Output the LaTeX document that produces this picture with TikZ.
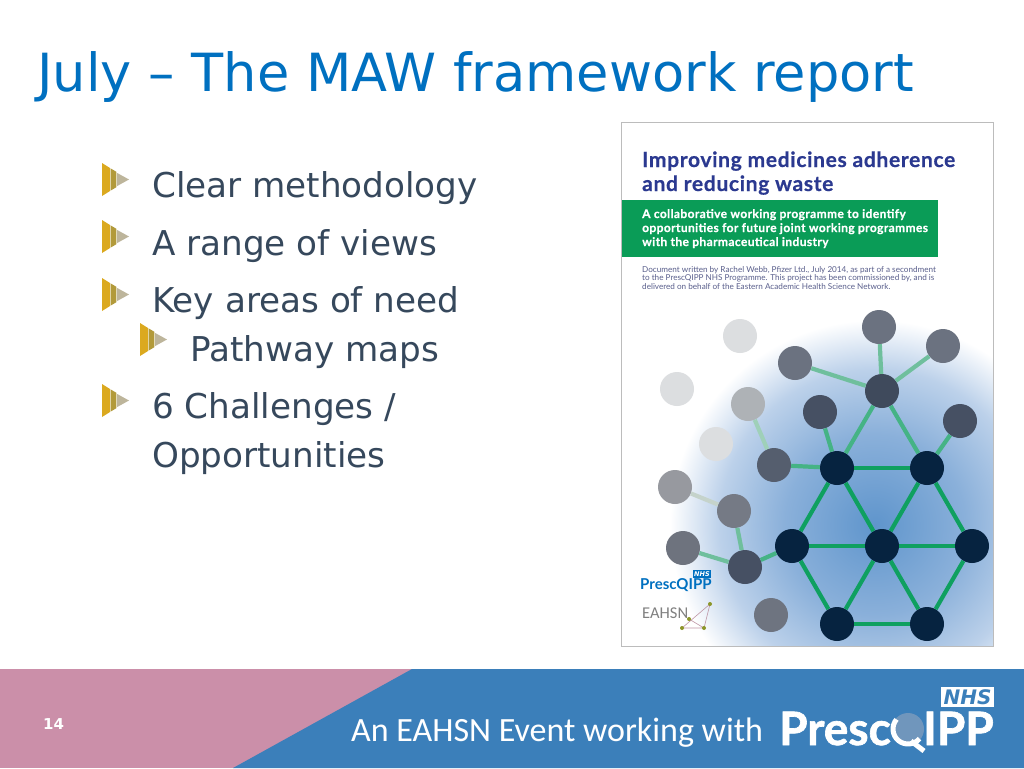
\documentclass[tikz,border=0pt]{standalone}
\usepackage{fontspec}
\setmainfont{DejaVu Sans}
\newfontfamily\footfont{Carlito}
\newfontfamily\coverfont{Lato}
\newfontfamily\coverwide[LetterSpace=3.2,BoldFeatures={FakeBold=0.6}]{Lato}
\newfontfamily\logofont[BoldFeatures={FakeBold=1.4}]{Lato}
\usetikzlibrary{calc}
\definecolor{titleblue}{HTML}{0070C0}
\definecolor{bodyslate}{HTML}{36485C}
\definecolor{footpink}{HTML}{CB8FA9}
\definecolor{footblue}{HTML}{3B7FBA}
\definecolor{covernavy}{HTML}{2B3990}
\definecolor{coversmall}{HTML}{5A5F8C}
\definecolor{covergreen}{HTML}{0A9C57}
\definecolor{glowa}{HTML}{5F95CC}
\definecolor{glowb}{HTML}{8AB0DA}
\definecolor{glowc}{HTML}{BCD1EA}
\pgfdeclareradialshading{coverglow}{\pgfpoint{0bp}{0bp}}{color(0bp)=(glowa); color(11bp)=(glowb); color(19bp)=(glowc); color(25bp)=(white); color(50bp)=(white)}
\tikzset{
	core/.style = {circle, inner sep = 0, minimum size = 34pt, fill = #1},
	core/.default = {black},
	edgeline/.style = {line width = 4.2pt, draw = #1},
	lead/.style = {anchor = base west, inner sep = 0, text = bodyslate, font = \fontsize{34.2}{34.2}\selectfont},
	coverline/.style = {anchor = base west, inner sep = 0, font = \coverfont\bfseries},
	pics/mawbullet/.style = {code = {
		\fill[color = {rgb,255:red,219;green,169;blue,31}] (0,0) -- (8,5) -- (8,28) -- (0,33) -- cycle;
		\fill[color = {rgb,255:red,178;green,154;blue,58}] (8.6,5.4) -- (14.4,8.8) -- (14.4,24.2) -- (8.6,27.6) -- cycle;
		\fill[color = {rgb,255:red,189;green,181;blue,155}] (15.2,10) -- (27,16.5) -- (15.2,23) -- cycle;
	}}
}
\begin{document}
\begin{tikzpicture}[x = 1pt, y = -1pt]
	\useasboundingbox (0,0) rectangle (1024,768);
	\fill[white] (0,0) rectangle (1024,768);
	% title and bullets
	\node[anchor = base west, inner sep = 0, text = titleblue, font = \fontsize{52.6}{52.6}\selectfont] (title) at (37,91) {July -- The MAW framework report};
	\node[lead] (clear) at (152,197) {Clear methodology};
	\node[lead] (views) at (152,255) {A range of views};
	\node[lead] (areas) at (152,312) {Key areas of need};
	\node[lead] (maps) at (190,361) {Pathway maps};
	\node[lead] (six) at (152,418) {6 Challenges /};
	\node[lead] (opps) at (152,467) {Opportunities};
	\foreach \xx/\yy in {102/163, 102/220, 102/278, 140/323, 102/384} {
		\pic at (\xx,\yy) {mawbullet};
	}
	% cover of the report
	\begin{scope}
		\clip (621,122) rectangle (993,646);
		\shade[shading = coverglow] (875,525) circle (205);
	\end{scope}
	\fill[covergreen] (621,200) rectangle (937.5,257);
	\draw[color = {rgb,255:red,188;green,188;blue,188}, line width = 1pt] (621,122) rectangle (993,646);
	\node[coverline, text = covernavy, font = \coverwide\bfseries\fontsize{21}{21}\selectfont] (covera) at (642,167) {Improving medicines adherence};
	\node[coverline, text = covernavy, font = \coverwide\bfseries\fontsize{21}{21}\selectfont] (coverb) at (642,191) {and reducing waste};
	\node[coverline, text = white, font = \coverwide\bfseries\fontsize{12}{12}\selectfont] (bandtexta) at (642,218) {A collaborative working programme to identify};
	\node[coverline, text = white, font = \coverwide\bfseries\fontsize{12}{12}\selectfont] (bandtextb) at (642,232) {opportunities for future joint working programmes};
	\node[coverline, text = white, font = \coverwide\bfseries\fontsize{12}{12}\selectfont] (bandtextc) at (642,246) {with the pharmaceutical industry};
	\node[coverline, text = coversmall, font = \coverfont\fontsize{8.15}{8.15}\selectfont] (smalla) at (642,272) {Document written by Rachel Webb, Pfizer Ltd., July 2014, as part of a secondment};
	\node[coverline, text = coversmall, font = \coverfont\fontsize{8.15}{8.15}\selectfont] (smallb) at (642,280.5) {to the PrescQIPP NHS Programme. This project has been commissioned by, and is};
	\node[coverline, text = coversmall, font = \coverfont\fontsize{8.15}{8.15}\selectfont] (smallc) at (642,289) {delivered on behalf of the Eastern Academic Health Science Network.};
	% the network
	\foreach \name/\xx/\yy/\shadeof in {
		na/837/468/062340, nb/927/468/062340, nc/792/546/062340, nd/882/546/062340,
		ne/972/546/062340, nf/837/624/062340, ng/927/624/062340,
		hub/882/391/3F4A5C, tipa/879/327/6B7280, tipb/943/346/6B7280, tipc/795/363/6B7280,
		side/820/412/465063, far/960/421/465063, mid/774/465/555E6E, pale/748/404/AEB2B6,
		ghosta/740/336/DCDEE0, ghostb/677/389/DCDEE0, ghostc/716/444/DCDEE0,
		grey/675/487/97999F, low/734/511/757A85, lefta/683/548/6E737E, join/745/567/465063,
		lone/771/615/6E7480} {
		\definecolor{nodefill}{HTML}{\shadeof}
		\node[core = nodefill] (\name) at (\xx,\yy) {};
	}
	\definecolor{strong}{HTML}{0FA060}
	\definecolor{middle}{HTML}{45B385}
	\definecolor{soft}{HTML}{6FBF9D}
	\definecolor{softer}{HTML}{9FD0B9}
	\definecolor{faint}{HTML}{C5D3CB}
	\foreach \from/\to in {na/nb, nc/nd, nd/ne, nf/ng, na/nc, na/nd, nb/nd, nb/ne, nc/nf, nd/nf, nd/ng, ne/ng} {
		\draw[edgeline = strong] (\from) -- (\to);
	}
	\foreach \from/\to in {hub/na, hub/nb, side/na, far/nb, mid/na, join/nc} {
		\draw[edgeline = middle] (\from) -- (\to);
	}
	\foreach \from/\to in {hub/tipa, hub/tipb, hub/tipc, low/join, lefta/join} {
		\draw[edgeline = soft] (\from) -- (\to);
	}
	\draw[edgeline = softer] (pale) -- (mid);
	\draw[edgeline = faint] (grey) -- (low);
	% small logos on the cover
	\node[coverline, text = titleblue, font = \coverfont\bfseries\fontsize{15}{15}\selectfont] (smallpresc) at (640,589) {PrescQIPP};
	\node[fill = titleblue, text = white, inner sep = 0, minimum width = 18pt, minimum height = 7.5pt, font = \bfseries\itshape\fontsize{6.5}{6.5}\selectfont] (smallnhs) at (702,574) {NHS};
	\node[anchor = base west, inner sep = 0, text = gray, font = \footfont\fontsize{16.5}{16.5}\selectfont] (eahsn) at (642,618) {EAHSN};
	\coordinate (tria) at (710,604);
	\coordinate (trib) at (689,619);
	\coordinate (tric) at (682,628);
	\coordinate (trid) at (704,628);
	\draw[color = {rgb,255:red,190;green,150;blue,165}, line width = .6pt] (tria) -- (tric) -- (trid) -- (tria) (trib) -- (trid);
	\foreach \dot in {tria, trib, tric, trid} {
		\fill[color = {rgb,255:red,140;green,150;blue,40}] (\dot) circle (2);
	}
	% footer
	\fill[footpink] (0,669) rectangle (1024,768);
	\fill[footblue] (412,669) -- (1024,669) -- (1024,768) -- (233,768) -- cycle;
	\node[text = white, inner sep = 0, font = \bfseries\fontsize{15}{15}\selectfont] (page) at (53.5,724) {14};
	\node[anchor = base west, inner sep = 0, text = white, font = \footfont\fontsize{34}{34}\selectfont] (event) at (351,741) {An EAHSN Event working with};
	\node[anchor = base west, inner sep = 0, text = white, font = \logofont\bfseries\fontsize{46}{46}\selectfont] (presc) at (779,745) {Presc};
	\node[anchor = base east, inner sep = 0, text = white, font = \logofont\bfseries\fontsize{46}{46}\selectfont] (ipp) at (994,745) {IPP};
	\coordinate (lens) at (908,729);
	\fill[color = {rgb,255:red,112;green,150;blue,188}] (lens) circle (16);
	\draw[white, line width = 5pt] ($(lens) + (220:15)$) arc (220:40:15);
	\draw[white, line width = 5pt] (911,741) -- (924,751);
	\node[fill = white, text = footblue, inner sep = 0, minimum width = 53pt, minimum height = 20pt, font = \bfseries\itshape\fontsize{20}{20}\selectfont] (nhs) at (967.5,697) {NHS};
\end{tikzpicture}
\end{document}
